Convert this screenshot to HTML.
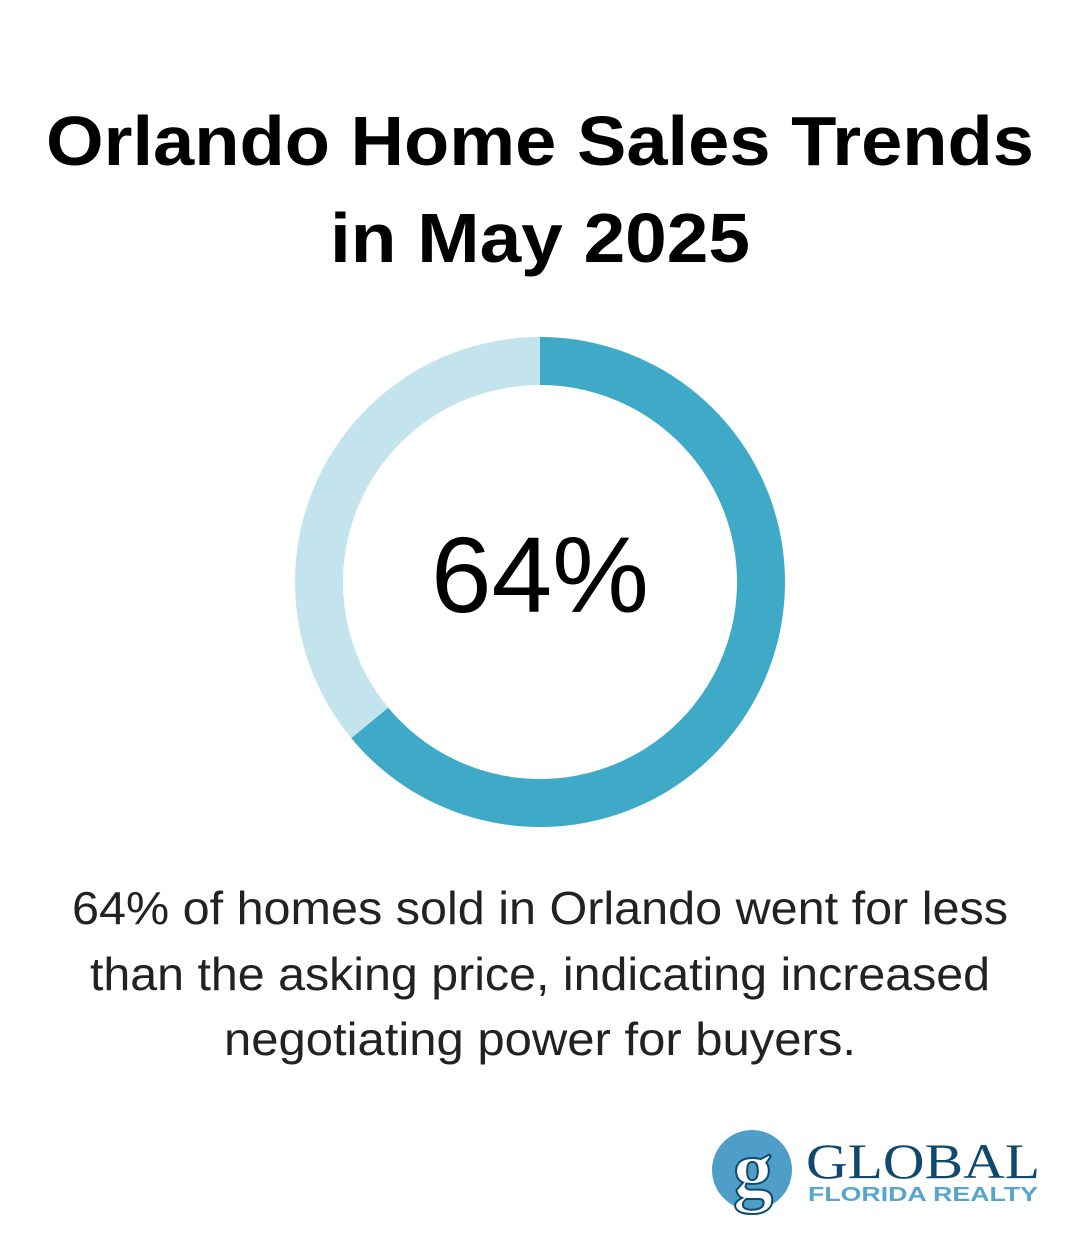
<!DOCTYPE html>
<html><head><meta charset="utf-8"><style>
html,body{margin:0;padding:0;background:#fff;}
svg{display:block;}
</style></head><body>
<svg width="1080" height="1250" viewBox="0 0 1080 1250">
<rect width="1080" height="1250" fill="#fff"/>
<g font-family="Liberation Sans, sans-serif">
<text x="540" y="165" text-anchor="middle" font-weight="bold" font-size="70" textLength="988" lengthAdjust="spacingAndGlyphs" fill="#000">Orlando Home Sales Trends</text>
<text x="540" y="262" text-anchor="middle" font-weight="bold" font-size="70" textLength="420" lengthAdjust="spacingAndGlyphs" fill="#000">in May 2025</text>
</g>
<g id="donut"></g>
<text x="540" y="612" text-anchor="middle" font-family="Liberation Sans, sans-serif" font-size="108" textLength="218" lengthAdjust="spacingAndGlyphs" fill="#000">64%</text>
<g font-family="Liberation Sans, sans-serif" font-size="46" fill="#222">
<text x="540" y="924" text-anchor="middle" textLength="936" lengthAdjust="spacingAndGlyphs">64% of homes sold in Orlando went for less</text>
<text x="540" y="990" text-anchor="middle" textLength="900" lengthAdjust="spacingAndGlyphs">than the asking price, indicating increased</text>
<text x="540" y="1055" text-anchor="middle" textLength="632" lengthAdjust="spacingAndGlyphs">negotiating power for buyers.</text>
</g>
<g>
<circle cx="752" cy="1170" r="40" fill="#4f9ec9"/>
<text x="753" y="1196" text-anchor="middle" font-family="Liberation Serif, serif" font-weight="bold" font-size="80" fill="#fff" stroke="#0f4a6e" stroke-width="2">g</text>
<text x="806" y="1178" font-family="Liberation Serif, serif" font-size="50" textLength="234" lengthAdjust="spacingAndGlyphs" fill="#0f4a6e">GLOBAL</text>
<text x="808" y="1201" font-family="Liberation Sans, sans-serif" font-weight="bold" font-size="20" textLength="230" lengthAdjust="spacingAndGlyphs" fill="#56a5cc">FLORIDA REALTY</text>
</g>
</svg>
<script>
const categories = ['Sold below asking', 'Other'];
const values = [64, 36];
const colors = ['#3fa9c8', '#c3e4ed'];
const cx = 540, cy = 582, ro = 245, ri = 197;
const g = document.getElementById('donut');
const total = values.reduce((a, b) => a + b, 0);
let start = 0;
function pt(r, a) { return [cx + r * Math.sin(a), cy - r * Math.cos(a)]; }
values.forEach((v, i) => {
  const a0 = start / total * 2 * Math.PI, a1 = (start + v) / total * 2 * Math.PI;
  const large = (a1 - a0) > Math.PI ? 1 : 0;
  const [x0, y0] = pt(ro, a0), [x1, y1] = pt(ro, a1), [x2, y2] = pt(ri, a1), [x3, y3] = pt(ri, a0);
  const p = document.createElementNS('http://www.w3.org/2000/svg', 'path');
  p.setAttribute('d', `M${x0},${y0} A${ro},${ro} 0 ${large} 1 ${x1},${y1} L${x2},${y2} A${ri},${ri} 0 ${large} 0 ${x3},${y3} Z`);
  p.setAttribute('fill', colors[i]);
  
  
  g.appendChild(p);
  start += v;
});
</script>
</body></html>
